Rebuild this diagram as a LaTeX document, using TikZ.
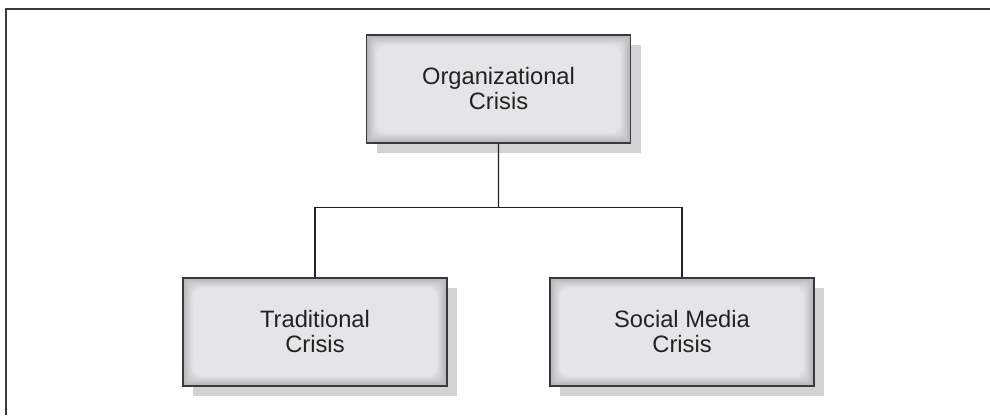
\documentclass[tikz,border=0pt]{standalone}
\usepackage{fontspec}
\setmainfont{Liberation Sans}
\usepackage{xcolor}
\usepackage{tikz}
\usetikzlibrary{calc,shadows}
\definecolor{ink}{HTML}{222222}
\definecolor{edge}{HTML}{3A3A3A}
\definecolor{boxfill}{HTML}{E4E5E7}
\definecolor{boxglow}{HTML}{B4B5B8}
\definecolor{shade}{HTML}{D2D3D5}
\tikzset{
  frame/.style={draw=edge, line width=1.6pt},
  link/.style={draw=ink, line width=1.1pt},
  crisis/.style={draw=edge, line width=1.4pt, fill=boxfill,
    minimum width=264pt, minimum height=108pt, inner sep=0pt,
    text=ink, align=center, font=\fontsize{23.7}{25}\selectfont,
    general shadow={fill=shade, shadow xshift=10pt, shadow yshift=-10pt},
    path picture={
      \foreach \i in {0,...,11}{
        \pgfmathtruncatemacro\pct{min(100,\i*10)}
        \fill[boxfill!\pct!boxglow, rounded corners=\i pt]
          ($(path picture bounding box.north west)+(\i,\i)$) rectangle
          ($(path picture bounding box.south east)+(-\i,-\i)$);
      }
    }},
  every node/.style={text=ink}
}
\begin{document}
\begin{tikzpicture}[x=1pt,y=-1pt]
  \useasboundingbox (0,0) rectangle (990,415);

  % open frame, top and left only
  \draw[frame] (6,415) -- (6,9) -- (990,9);

  \node[crisis] (org) at (498.5,89) {Organizational\\Crisis};
  \node[crisis] (trad) at (315,332) {Traditional\\Crisis};
  \node[crisis] (soc) at (682,332) {Social Media\\Crisis};

  % tree links
  \coordinate (split) at ($(org.south)!0.48!(org.south |- trad.north)$);
  \draw[link] (org.south) -- (split);
  \draw[link] (trad.north) |- (split) -| (soc.north);
\end{tikzpicture}
\end{document}
